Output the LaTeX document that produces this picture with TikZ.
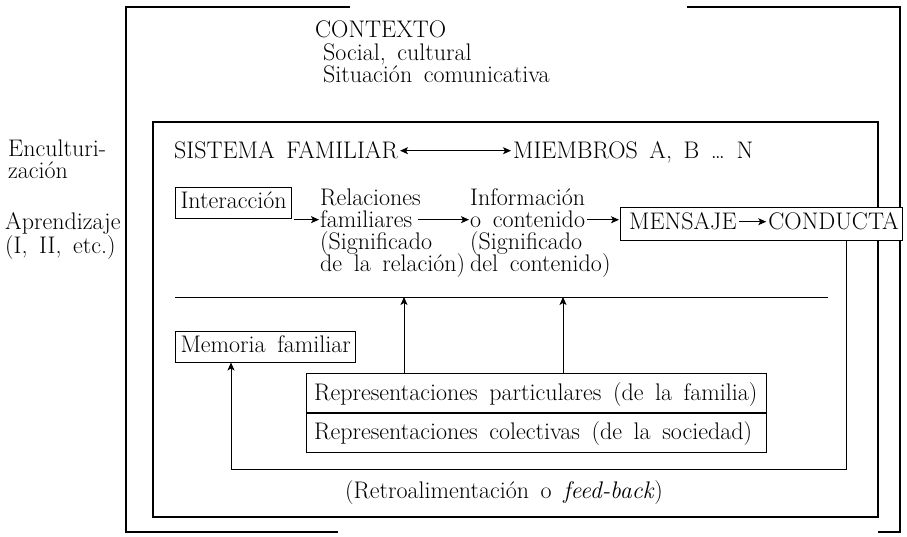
\documentclass[tikz,border=0pt]{standalone}
\usepackage{fontspec}
\setmainfont{Latin Modern Roman}[WordSpace=1.6]
\usetikzlibrary{arrows.meta}
\begin{document}
\begin{tikzpicture}[x=1pt,y=-1pt,
  every node/.style={font=\fontsize{24}{23}\selectfont, inner sep=0pt},
  frame/.style={line width=1.2pt},
  plain/.style={line width=1pt},
  conn/.style={line width=1pt, -{Stealth[length=8pt,width=7pt,inset=2pt]}},
  dconn/.style={line width=1pt, {Stealth[length=8pt,width=7pt,inset=2pt]}-{Stealth[length=8pt,width=7pt,inset=2pt]}},
  boxed/.style={draw, line width=1pt, inner xsep=5pt, inner ysep=5pt, text height=16pt, text depth=5pt},
  reprbox/.style={draw, line width=1pt, minimum width=460pt, minimum height=39pt}
]
\fill[white] (0,0) rectangle (907,537);
\useasboundingbox (0,0) rectangle (907,537);

% outer frame (CONTEXTO)
\draw[frame] (350,7) -- (126,7) -- (126,532) -- (338,532);
\draw[frame] (687,7) -- (900,7) -- (900,532) -- (878,532);

% inner frame (sistema familiar)
\draw[frame] (153,122) rectangle (878,517);

% context texts
\node[anchor=base west] (ctx) at (315,38) {CONTEXTO};
\node[anchor=base west] (soc) at (323,61) {Social, cultural};
\node[anchor=base west] (sit) at (323,83) {Situación comunicativa};

% left labels
\node[anchor=base west] (enc) at (8,157) {Enculturi-};
\node[anchor=base west] (zac) at (8,179) {zación};
\node[anchor=base west] (apr) at (5,230) {Aprendizaje};
\node[anchor=base west] (ietc) at (5,254) {(I, II, etc.)};

% sistema familiar row
\node[anchor=base west] (sf) at (174,159) {SISTEMA FAMILIAR};
\node[anchor=base west] (mb) at (513,159) {MIEMBROS A, B \dots{} N};
\draw[dconn, shorten <=2pt, shorten >=2pt] (sf.east) -- (sf.east -| mb.west);

% interaction row
\node[boxed, anchor=base west] (int) at (175,209) {Interacción};
\node[anchor=base west] (rel) at (320,206) {Relaciones};
\node[anchor=base west] (fam) at (320,228) {familiares};
\node[anchor=base west] (sg1) at (320,250) {(Significado};
\node[anchor=base west] (dlr) at (320,272) {de la relación)};
\node[anchor=base west] (inf) at (470,206) {Información};
\node[anchor=base west] (cont) at (470,228) {o contenido};
\node[anchor=base west] (sg2) at (470,250) {(Significado};
\node[anchor=base west] (dc) at (470,272) {del contenido)};

\node[draw, line width=1pt, fill=white, anchor=north west, minimum width=282pt, minimum height=33pt] (mbox) at (620,207) {};
\node[anchor=base west] (men) at (629,230) {MENSAJE};
\node[anchor=base east] (cond) at (899,230) {CONDUCTA};

\draw[conn, shorten <=2pt, shorten >=1pt] (fam.west -| int.east) -- (fam.west);
\draw[conn, shorten <=6pt, shorten >=1pt] (fam.east) -- (fam.east -| cont.west);
\draw[conn, shorten <=2pt, shorten >=1pt] (cont.east) -- (cont.east -| mbox.west);
\draw[conn, shorten <=2pt, shorten >=2pt] (men.east) -- (men.east -| cond.west);

% separator line
\coordinate (hlL) at (175,297);
\coordinate (hlR) at (828,297);
\draw[plain] (hlL) -- (hlR);

% memoria and representaciones
\node[boxed, anchor=base west] (mem) at (175,352) {Memoria familiar};
\node[reprbox, anchor=north west] (rp) at (306,373) {};
\node[reprbox, anchor=north west] (rc) at (rp.south west) {};
\node[anchor=base west] (rpt) at (314,400) {Representaciones particulares (de la familia)};
\node[anchor=base west] (rct) at (314,439) {Representaciones colectivas (de la sociedad)};

\coordinate (up1) at (404,297);
\coordinate (up2) at (563,297);
\draw[conn] (rp.north -| up1) -- (up1);
\draw[conn] (rp.north -| up2) -- (up2);

% feedback loop
\coordinate (fbR) at (846,469);
\coordinate (fbL) at (231,469);
\draw[conn] (mbox.south -| fbR) -- (fbR) -- (fbL) -- (mem.south -| fbL);

\node[anchor=base] (retro) at (504,498) {(Retroalimentación o \textit{feed-back})};
\end{tikzpicture}
\end{document}
